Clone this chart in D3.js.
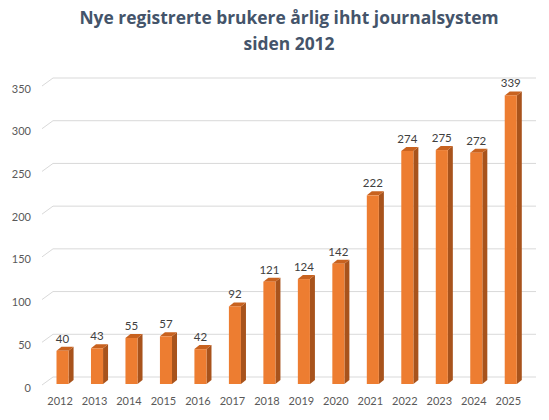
<!DOCTYPE html>
<html>
<head>
<meta charset="utf-8">
<script src="https://cdn.jsdelivr.net/npm/d3@7"></script>
<style>
  html, body { margin: 0; padding: 0; background: #fff; }
  #container { width: 549px; height: 420px; }
</style>
</head>
<body>
<div id="container"></div>
<script>
const years = ["2012","2013","2014","2015","2016","2017","2018","2019","2020","2021","2022","2023","2024","2025"];
const users = [40, 43, 55, 57, 42, 92, 121, 124, 142, 222, 274, 275, 272, 339];
const yTicks = [0, 50, 100, 150, 200, 250, 300, 350];
const titleLines = ["Nye registrerte brukere årlig ihht journalsystem", "siden 2012"];

const width = 549, height = 420;

const svg = d3.create("svg")
    .attr("width", width)
    .attr("height", height)
    .attr("viewBox", `0 0 ${width} ${height}`)
    .attr("xmlns", "http://www.w3.org/2000/svg");

const x = d3.scaleBand().domain(years).range([45.3, 528]).paddingInner(0.65).paddingOuter(0.325);
const y = d3.scaleLinear().domain([0, 350]).range([385, 86]);

// depth of bars and of the back wall
const bx = 5, by = -4;
const wx = 11, wy = -8;

// gridlines on back wall with slanted floor edge
const grid = svg.append("g").attr("stroke", "#d9d9d9").attr("stroke-width", 1).attr("fill", "none");
grid.selectAll("path")
    .data(yTicks)
    .join("path")
    .attr("d", d => `M42,${y(d)}L${42 + wx},${y(d) + wy}L536,${y(d) + wy}`);

// y axis labels
const yAxis = svg.append("g")
    .attr("transform", "translate(42,2.5)")
    .call(d3.axisLeft(y).tickValues(yTicks).tickSize(0).tickPadding(11));
yAxis.select(".domain").remove();
yAxis.selectAll("text").attr("fill", "#595959").style("font", "11px Lato, 'Noto Sans', sans-serif");

// x axis labels
const xAxis = svg.append("g")
    .attr("transform", "translate(-2.5,385)")
    .call(d3.axisBottom(x).tickSize(0).tickPadding(12));
xAxis.select(".domain").remove();
xAxis.selectAll("text").attr("fill", "#595959").style("font", "11px Lato, 'Noto Sans', sans-serif");

// 3D bars
const bw = x.bandwidth();
const bars = svg.append("g")
    .selectAll("g")
    .data(years.map((yr, i) => ({year: yr, value: users[i]})))
    .join("g");

bars.append("path")
    .attr("fill", "#a8531c")
    .attr("d", d => {
        const x1 = x(d.year) + bw, top = y(d.value), bot = y(0) - 1;
        return `M${x1},${top}L${x1 + bx},${top + by}L${x1 + bx},${bot + by}L${x1},${bot}Z`;
    });

bars.append("path")
    .attr("fill", "#c8621f")
    .attr("d", d => {
        const x0 = x(d.year), x1 = x0 + bw, top = y(d.value);
        return `M${x0},${top}L${x0 + bx},${top + by}L${x1 + bx},${top + by}L${x1},${top}Z`;
    });

bars.append("rect")
    .attr("fill", "#ed7d31")
    .attr("x", d => x(d.year))
    .attr("y", d => y(d.value))
    .attr("width", bw)
    .attr("height", d => y(0) - 1 - y(d.value));

bars.append("text")
    .attr("x", d => x(d.year) + bw / 2)
    .attr("y", d => y(d.value) - 8)
    .attr("text-anchor", "middle")
    .attr("fill", "#404040")
    .style("font", "11.5px Lato, 'Noto Sans', sans-serif")
    .text(d => d.value);

// title
svg.append("g")
    .selectAll("text")
    .data(titleLines)
    .join("text")
    .attr("x", 289)
    .attr("y", (d, i) => 24 + i * 26)
    .attr("text-anchor", "middle")
    .attr("fill", "#44546a")
    .style("font", "bold 17.4px 'Open Sans', 'Noto Sans', sans-serif")
    .text(d => d);

document.getElementById("container").append(svg.node());
</script>
</body>
</html>
